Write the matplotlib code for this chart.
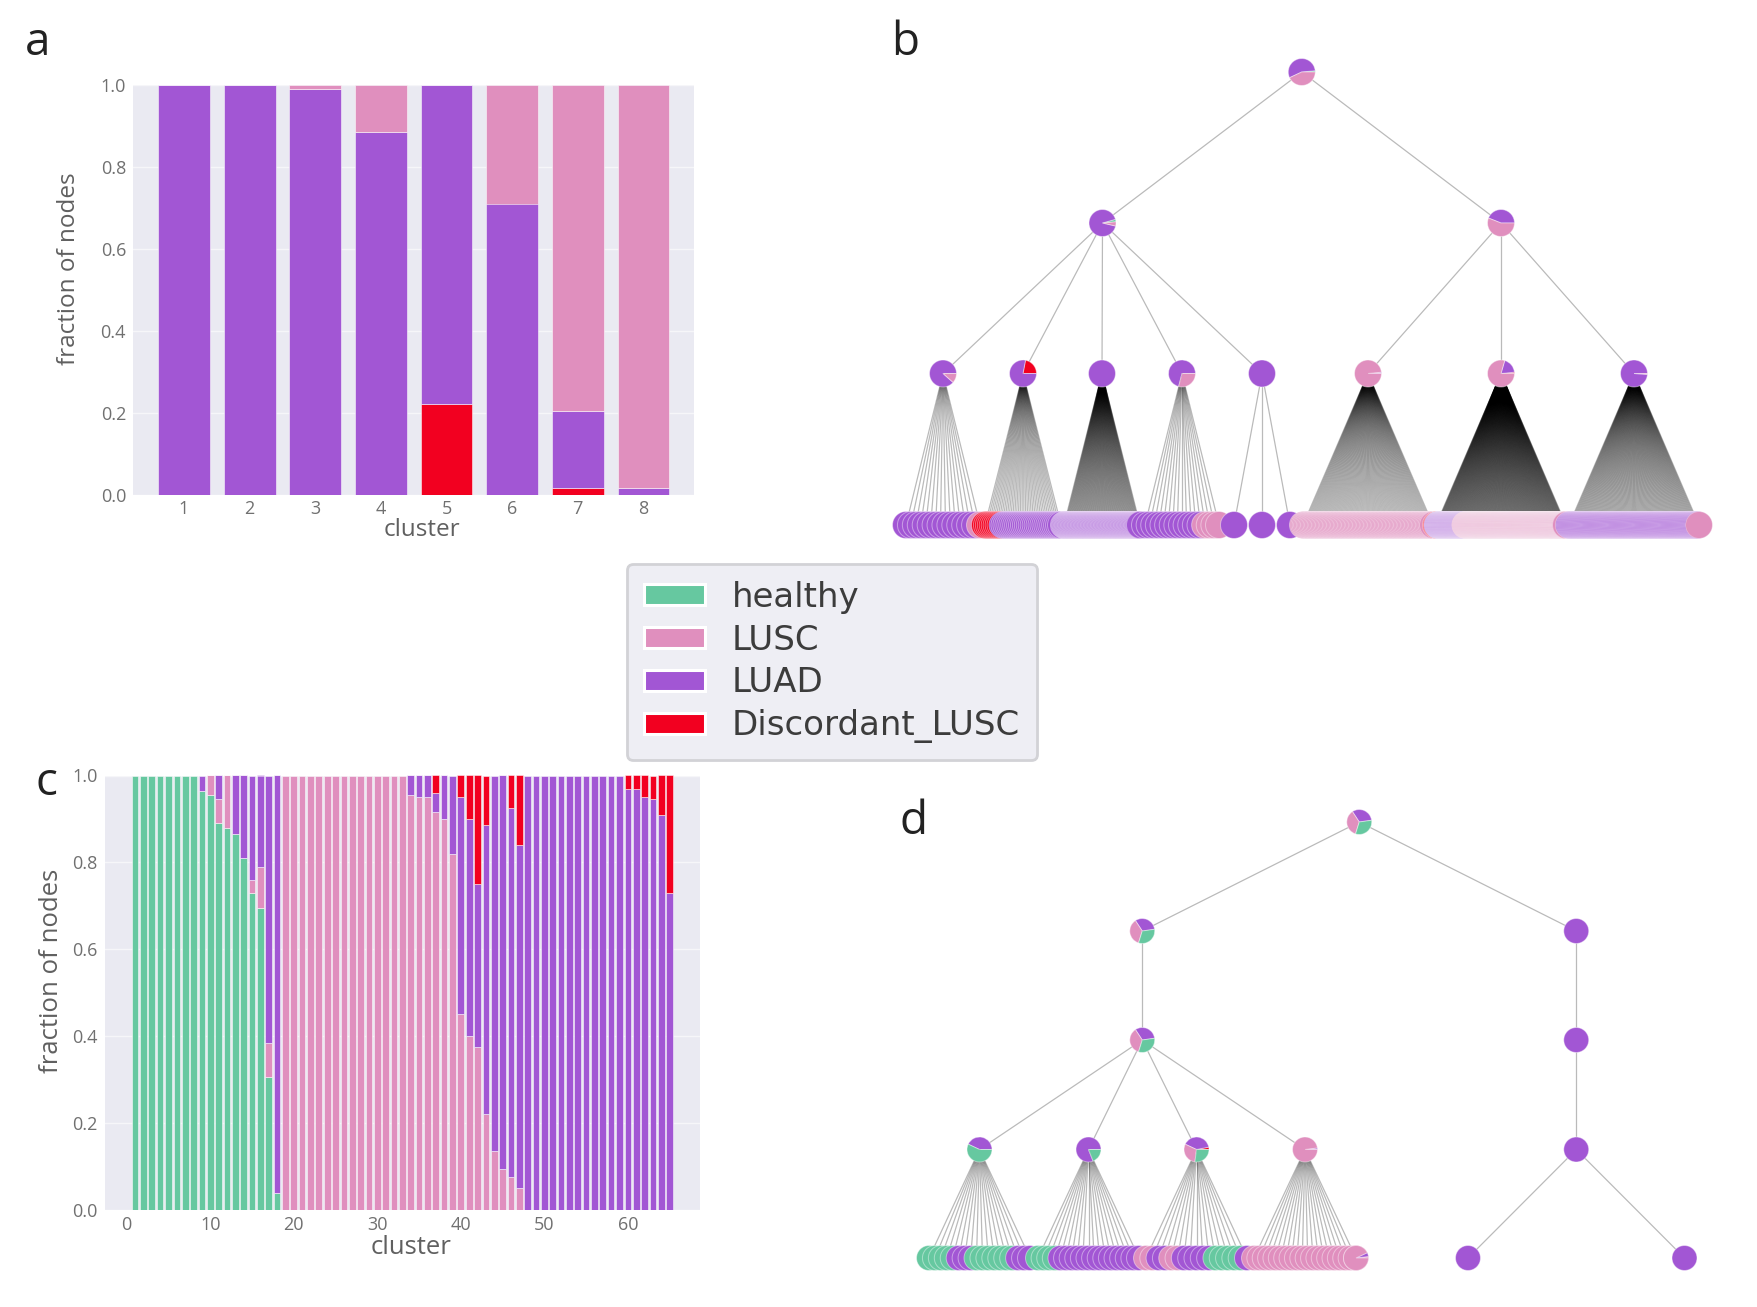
import matplotlib
matplotlib.use("Agg")
import matplotlib.pyplot as plt
from matplotlib.collections import LineCollection
from matplotlib.patches import Patch

W, H = 1757, 1307
plt.rcParams['font.family'] = ['Open Sans', 'DejaVu Sans']

COL = {'healthy': '#66C8A0', 'LUSC': '#E08FBE', 'LUAD': '#A256D4', 'Discordant_LUSC': '#F20020'}
legend_order = ['healthy', 'LUSC', 'LUAD', 'Discordant_LUSC']

# ---- panel a data
a_clusters = [1, 2, 3, 4, 5, 6, 7, 8]
a_red = [0, 0, 0, 0, 0.22, 0, 0.015, 0]
a_luad = [1.0, 1.0, 0.99, 0.885, 0.78, 0.71, 0.19, 0.015]
a_lusc = [0, 0, 0.01, 0.115, 0, 0.29, 0.795, 0.985]

# ---- panel c data
c_clusters = list(range(1, 66))
c_healthy = [1.0] * 8 + [0.965, 0.955, 0.89, 0.88, 0.865, 0.81, 0.73, 0.695, 0.305, 0.04] + [0.0] * 47
c_lusc = [0.0] * 8 + [0.0, 0.045, 0.055, 0.12, 0.0, 0.0, 0.03, 0.095, 0.08, 0.0] + [1.0] * 15 + \
         [0.955, 0.95, 0.95, 0.915, 0.90, 0.82, 0.45, 0.40, 0.375, 0.22, 0.135, 0.095, 0.075, 0.05] + [0.0] * 18
c_luad = [0.0] * 8 + [0.035, 0.0, 0.055, 0.0, 0.135, 0.19, 0.24, 0.21, 0.615, 0.96] + [0.0] * 15 + \
         [0.045, 0.05, 0.05, 0.045, 0.10, 0.18, 0.50, 0.50, 0.375, 0.665, 0.865, 0.905, 0.85, 0.79] + \
         [1.0] * 12 + [0.97, 0.968, 0.95, 0.945, 0.91, 0.73]
c_red = [0.0] * 36 + [0.04, 0.0, 0.0, 0.05, 0.10, 0.25, 0.115, 0.0, 0.0, 0.075, 0.16] + [0.0] * 12 + \
        [0.03, 0.032, 0.05, 0.055, 0.09, 0.27]

# ---- panel b tree: internal node compositions (categories, fractions, start angle)
b_root = (['healthy', 'LUAD', 'LUSC'], [0.015, 0.555, 0.43], 0)
b_mid = [(['healthy', 'LUAD', 'LUSC'], [0.03, 0.92, 0.05], 5),
         (['LUAD', 'LUSC'], [0.44, 0.56], 0)]
b_low = [(['LUAD', 'LUSC'], [0.885, 0.115], 0),
         (['Discordant_LUSC', 'LUAD'], [0.22, 0.78], 0),
         (['LUAD'], [1.0], 0),
         (['LUAD', 'LUSC'], [0.71, 0.29], 0),
         (['LUAD'], [1.0], 0),
         (['LUAD', 'LUSC'], [0.015, 0.985], 0),
         (['Discordant_LUSC', 'LUAD', 'LUSC'], [0.015, 0.19, 0.795], 0),
         (['LUAD', 'LUSC'], [0.99, 0.01], 0)]
# leaf runs per cluster: (category, number of leaves)
b_leaves = [[('LUAD', 15), ('LUSC', 1)],
            [('Discordant_LUSC', 9), ('LUAD', 31)],
            [('LUAD', 100)],
            [('LUAD', 13), ('LUSC', 4)],
            [('LUAD', 3)],
            [('LUSC', 96)],
            [('Discordant_LUSC', 3), ('LUAD', 55), ('LUSC', 202)],
            [('LUAD', 125), ('LUSC', 1)]]

# ---- panel d tree
d_mix = (['LUAD', 'LUSC', 'healthy'], [0.32, 0.36, 0.32], 8)
d_root, d_left2, d_left3 = d_mix, d_mix, d_mix
d_low = [(['LUAD', 'healthy'], [0.43, 0.57], 0),
         (['LUAD', 'healthy'], [0.81, 0.19], 0),
         (['Discordant_LUSC', 'LUAD', 'LUSC', 'healthy'], [0.03, 0.40, 0.30, 0.27], 0),
         (['LUAD', 'LUSC'], [0.02, 0.98], 0)]
d_pure = (['LUAD'], [1.0], 0)
d_leaves = [[('healthy', 5), ('LUAD', 3), ('healthy', 7), ('LUAD', 3)],
            [('healthy', 4), ('LUAD', 15)],
            [('LUSC', 2), ('LUAD', 2), ('LUSC', 2), ('LUAD', 5), ('healthy', 5), ('LUAD', 1)],
            [('LUSC', 20)]]

# spans of leaf centres in figure pixels (layout only)
b_spans = [(906, 980), (985, 1061), (1064, 1140), (1145, 1219), (1234, 1290),
           (1303, 1433), (1436, 1566), (1569, 1699)]
d_spans = [(929, 1030), (1038, 1139), (1146, 1247), (1254, 1356)]
d_right_leaves = (1468, 1684.5)


def add_axes_px(l, t, r, b):
    return fig.add_axes([l / W, 1 - b / H, (r - l) / W, (b - t) / H])


def style(ax, ticks_x, fs, xl, yl):
    ax.set_facecolor('#EAEAF2')
    for s in ax.spines.values():
        s.set_visible(False)
    ax.grid(True, color='white', lw=1.0, alpha=0.6)
    ax.set_axisbelow(True)
    ax.tick_params(length=0, labelsize=13, labelcolor='#707070')
    ax.tick_params(axis='x', pad=4)
    ax.tick_params(axis='y', pad=5)
    ax.set_ylim(0, 1)
    ax.set_yticks([0, 0.2, 0.4, 0.6, 0.8, 1.0])
    ax.set_xticks(ticks_x)
    ax.grid(False, axis='x')
    ax.set_xlabel('cluster', fontsize=fs, color='#606060', va='center')
    ax.set_ylabel('fraction of nodes', fontsize=fs, color='#606060', va='center')
    ax.xaxis.set_label_coords(*xl)
    ax.yaxis.set_label_coords(*yl)


fig = plt.figure(figsize=(W / 100, H / 100), dpi=100)

# tree canvas
tr = fig.add_axes([0, 0, 1, 1], zorder=0)
tr.set_autoscale_on(False)
EDGE = (1, 1, 1, 0.42)


def node(x, y, comp, r):
    cats, fr, start = comp
    tr.pie(fr, colors=[COL[c] for c in cats], center=(x, H - y), radius=r, startangle=start,
           frame=True, normalize=True,
           wedgeprops=dict(edgecolor=EDGE, linewidth=0.72))


def edges(pairs):
    segs = [[(a[0], H - a[1]), (b[0], H - b[1])] for a, b in pairs]
    tr.add_collection(LineCollection(segs, colors='k', alpha=0.27, linewidths=0.9, zorder=1))


def leaf_xs(span, n):
    if n == 1:
        return [(span[0] + span[1]) / 2]
    return [span[0] + (span[1] - span[0]) * i / (n - 1) for i in range(n)]


def draw_cluster_leaves(runs, span, y, r):
    n = sum(k for _, k in runs)
    xs = leaf_xs(span, n)
    cats = [c for c, k in runs for _ in range(k)]
    for x, c in zip(xs, cats):
        node(x, y, ([c], [1.0], 0), r)
    return xs


# ---- tree b
yb = [72, 223, 373.5, 525]
Rb = 13.5
pairs = []
low_x = []
for runs, span in zip(b_leaves, b_spans):
    n = sum(k for _, k in runs)
    xs = leaf_xs(span, n)
    px = (span[0] + span[1]) / 2
    low_x.append(px)
    pairs += [((px, yb[2]), (x, yb[3])) for x in xs]
mid_x = [(low_x[0] + low_x[4]) / 2, (low_x[5] + low_x[7]) / 2]
root_x = (mid_x[0] + mid_x[1]) / 2
pairs += [((mid_x[0], yb[1]), (x, yb[2])) for x in low_x[:5]]
pairs += [((mid_x[1], yb[1]), (x, yb[2])) for x in low_x[5:]]
pairs += [((root_x, yb[0]), (x, yb[1])) for x in mid_x]
edges(pairs)
for runs, span in zip(b_leaves, b_spans):
    draw_cluster_leaves(runs, span, yb[3], Rb)
for x, comp in zip(low_x, b_low):
    node(x, yb[2], comp, Rb)
for x, comp in zip(mid_x, b_mid):
    node(x, yb[1], comp, Rb)
node(root_x, yb[0], b_root, Rb)

# ---- tree d
yd = [822, 931, 1040, 1149.5, 1258]
Rd = 12.5
pairs = []
low_x = []
for runs, span in zip(d_leaves, d_spans):
    n = sum(k for _, k in runs)
    xs = leaf_xs(span, n)
    px = (span[0] + span[1]) / 2
    low_x.append(px)
    pairs += [((px, yd[3]), (x, yd[4])) for x in xs]
lx = (low_x[0] + low_x[3]) / 2
rx = (d_right_leaves[0] + d_right_leaves[1]) / 2
top = (lx + rx) / 2
pairs += [((lx, yd[2]), (x, yd[3])) for x in low_x]
pairs += [((lx, yd[1]), (lx, yd[2])), ((rx, yd[1]), (rx, yd[2])), ((rx, yd[2]), (rx, yd[3])),
          ((top, yd[0]), (lx, yd[1])), ((top, yd[0]), (rx, yd[1]))]
pairs += [((rx, yd[3]), (x, yd[4])) for x in d_right_leaves]
edges(pairs)
for runs, span in zip(d_leaves, d_spans):
    xs = draw_cluster_leaves(runs, span, yd[4], Rd)
node(d_spans[3][1], yd[4], (['LUSC', 'LUAD', 'LUSC'], [0.02, 0.05, 0.93], 0), Rd)
for x in d_right_leaves:
    node(x, yd[4], d_pure, Rd)
for x, comp in zip(low_x, d_low):
    node(x, yd[3], comp, Rd)
node(lx, yd[2], d_left3, Rd)
node(lx, yd[1], d_left2, Rd)
node(rx, yd[1], d_pure, Rd)
node(rx, yd[2], d_pure, Rd)
node(rx, yd[3], d_pure, Rd)
node(top, yd[0], d_root, Rd)
tr.set_xlim(0, W)
tr.set_ylim(0, H)
tr.set_aspect('auto')
tr.axis('off')

# ---- panel a
ax = add_axes_px(133, 84.6, 694, 494.6)
b0 = a_red
b1 = [p + q for p, q in zip(b0, a_luad)]
ek = dict(width=0.79, edgecolor=(1, 1, 1, 0.6), linewidth=0.6, zorder=2)
ax.bar(a_clusters, a_red, color=COL['Discordant_LUSC'], **ek)
ax.bar(a_clusters, a_luad, bottom=b0, color=COL['LUAD'], **ek)
ax.bar(a_clusters, a_lusc, bottom=b1, color=COL['LUSC'], **ek)
style(ax, a_clusters, 17.5, (0.5146, -0.087), (-0.114, 0.55))
ax.set_xlim(0.224, 8.77)

# ---- panel c
ax = add_axes_px(104.7, 775.5, 700, 1210)
ek = dict(width=0.8, edgecolor=(1, 1, 1, 0.6), linewidth=0.6, zorder=2)
b1 = c_healthy
b2 = [p + q for p, q in zip(b1, c_lusc)]
b3 = [p + q for p, q in zip(b2, c_luad)]
ax.bar(c_clusters, c_healthy, color=COL['healthy'], **ek)
ax.bar(c_clusters, c_lusc, bottom=b1, color=COL['LUSC'], **ek)
ax.bar(c_clusters, c_luad, bottom=b2, color=COL['LUAD'], **ek)
ax.bar(c_clusters, c_red, bottom=b3, color=COL['Discordant_LUSC'], **ek)
style(ax, [0, 10, 20, 30, 40, 50, 60], 18.5, (0.5145, -0.087), (-0.0902, 0.55))
ax.set_xlim(-2.64, 68.64)

# ---- legend
handles = [Patch(facecolor=COL[k], edgecolor='white', linewidth=2.2) for k in legend_order]
leg = fig.legend(handles, legend_order, loc='center',
                 bbox_to_anchor=(832 / W, 1 - 662 / H),
                 prop={'family': 'DejaVu Sans', 'size': 24.5},
                 handlelength=1.8, handleheight=0.55, handletextpad=0.8, labelspacing=0.29,
                 borderpad=0.5, borderaxespad=0, fancybox=True, framealpha=1,
                 facecolor='#EEEEF4', edgecolor='#D2D2D6', labelcolor='#3C3C3C')
leg.get_frame().set_linewidth(2)
leg.set_zorder(10)

# ---- panel letters
for s, x, y in [('a', 38, 43), ('b', 905, 43), ('c', 47, 783), ('d', 914, 822)]:
    fig.text(x / W, 1 - y / H, s, fontsize=33, color='#222222', ha='center', va='center')

fig.savefig('out.png', dpi=100)
